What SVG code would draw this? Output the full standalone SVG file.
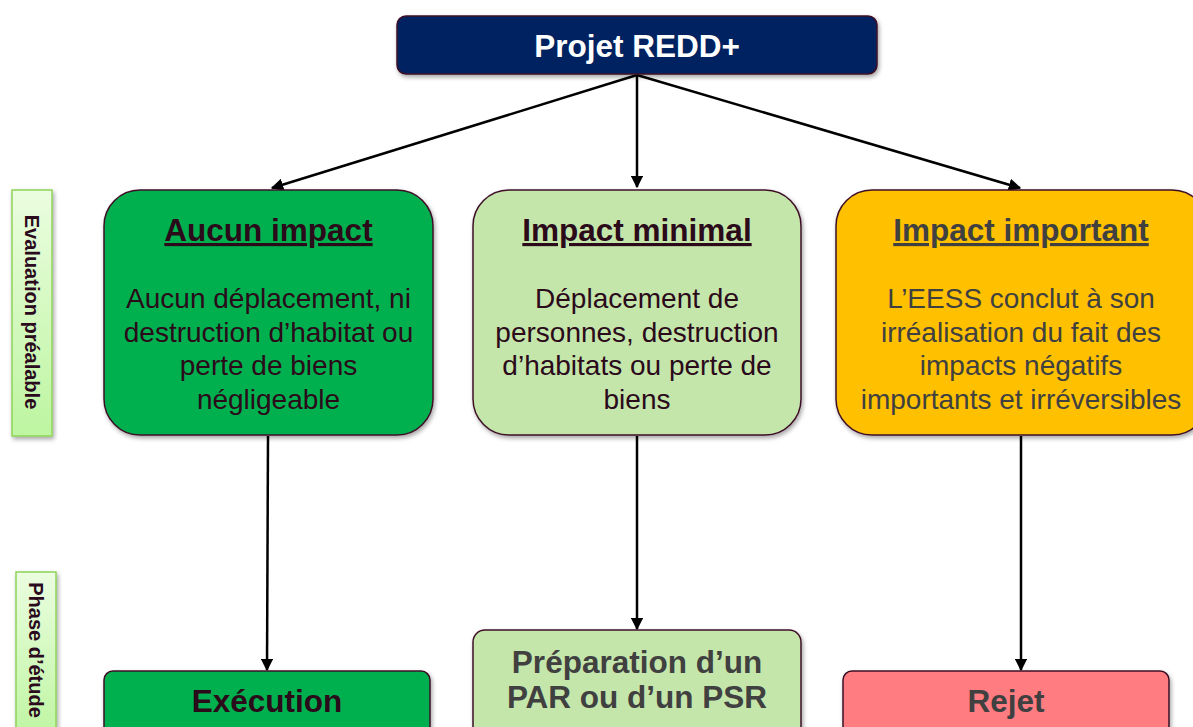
<svg xmlns="http://www.w3.org/2000/svg" width="1193" height="727" viewBox="0 0 1193 727">
  <defs>
    <style>
      .box { stroke: #3d0f26; stroke-width: 1.5; filter: url(#shadow); }
      .title { font-family: "Liberation Sans", Arial, sans-serif; font-weight: bold; font-size: 31.5px; text-anchor: middle; text-decoration: underline; }
      .body { font-family: "Liberation Sans", Arial, sans-serif; font-size: 28px; text-anchor: middle; }
      .big { font-family: "Liberation Sans", Arial, sans-serif; font-weight: bold; font-size: 31.5px; text-anchor: middle; }
      .side { font-family: "Liberation Sans", Arial, sans-serif; font-weight: bold; font-size: 20px; text-anchor: middle; fill: #2a0a1c; }
      .sidebox { fill: url(#sideGrad); stroke: #8fd45a; stroke-width: 1.5; filter: url(#shadow); }
      .maroon { fill: #2b0a1a; }
      .grey { fill: #404040; }
      .conn { stroke: #000; stroke-width: 2.5; fill: none; marker-end: url(#arrow); }
    </style>
    <linearGradient id="sideGrad" x1="0" y1="0" x2="0" y2="1">
      <stop offset="0" stop-color="#ebfde0"/>
      <stop offset="1" stop-color="#bdf5a0"/>
    </linearGradient>
    <filter id="shadow" x="-10%" y="-10%" width="125%" height="130%">
      <feDropShadow dx="1.5" dy="2.5" stdDeviation="2" flood-color="#000" flood-opacity="0.35"/>
    </filter>
    <marker id="arrow" viewBox="0 0 10 10" refX="9" refY="5" markerWidth="5" markerHeight="5" orient="auto" markerUnits="strokeWidth">
      <path d="M0,0 L10,5 L0,10 z" fill="#000"/>
    </marker>
  </defs>

  <!-- side phase labels -->
  <g id="label-evaluation">
    <rect class="sidebox" x="12" y="190" width="40" height="246"/>
    <text class="side" transform="translate(32,312) rotate(90)" dy="7">Evaluation préalable</text>
  </g>
  <g id="label-etude">
    <rect class="sidebox" x="16" y="572" width="40" height="170"/>
    <text class="side" transform="translate(36,650) rotate(90)" dy="7">Phase d’étude</text>
  </g>

  <!-- connectors -->
  <g id="connectors">
    <line class="conn" x1="637" y1="75" x2="272" y2="188"/>
    <line class="conn" x1="637" y1="75" x2="637" y2="187"/>
    <line class="conn" x1="637" y1="75" x2="1020" y2="188"/>
    <line class="conn" x1="268" y1="436" x2="267" y2="670"/>
    <line class="conn" x1="637" y1="436" x2="637" y2="629"/>
    <line class="conn" x1="1021" y1="436" x2="1021" y2="670"/>
  </g>

  <!-- root -->
  <g id="node-projet">
    <rect class="box" x="397" y="16" width="480" height="58" rx="9" fill="#002060" stroke="#5a0f20"/>
    <text class="big" x="637" y="57" fill="#ffffff">Projet REDD+</text>
  </g>

  <!-- evaluation outcomes -->
  <g id="node-aucun">
    <rect class="box" x="104" y="190" width="329" height="245" rx="36" fill="#00b050"/>
    <text class="title maroon" x="268.5" y="241">Aucun impact</text>
    <text class="body maroon" x="268.5" y="308">Aucun déplacement, ni</text>
    <text class="body maroon" x="268.5" y="341.5">destruction d’habitat ou</text>
    <text class="body maroon" x="268.5" y="375">perte de biens</text>
    <text class="body maroon" x="268.5" y="408.5">négligeable</text>
  </g>

  <g id="node-minimal">
    <rect class="box" x="473" y="190" width="328" height="245" rx="36" fill="#c4e6ab"/>
    <text class="title maroon" x="637" y="241">Impact minimal</text>
    <text class="body maroon" x="637" y="308">Déplacement de</text>
    <text class="body maroon" x="637" y="341.5">personnes, destruction</text>
    <text class="body maroon" x="637" y="375">d’habitats ou perte de</text>
    <text class="body maroon" x="637" y="408.5">biens</text>
  </g>

  <g id="node-important">
    <rect class="box" x="836" y="190" width="372" height="245" rx="36" fill="#ffc000"/>
    <text class="title grey" x="1021" y="241">Impact important</text>
    <text class="body grey" x="1021" y="308">L’EESS conclut à son</text>
    <text class="body grey" x="1021" y="341.5">irréalisation du fait des</text>
    <text class="body grey" x="1021" y="375">impacts négatifs</text>
    <text class="body grey" x="1021" y="408.5">importants et irréversibles</text>
  </g>

  <!-- study phase outcomes -->
  <g id="node-execution">
    <rect class="box" x="104" y="671" width="326" height="70" rx="9" fill="#00b050"/>
    <text class="big maroon" x="267" y="712">Exécution</text>
  </g>

  <g id="node-preparation">
    <rect class="box" x="473" y="630" width="328" height="110" rx="12" fill="#c4e6ab"/>
    <text class="big grey" x="637" y="673">Préparation d’un</text>
    <text class="big grey" x="637" y="708">PAR ou d’un PSR</text>
  </g>

  <g id="node-rejet">
    <rect class="box" x="843" y="671" width="326" height="70" rx="9" fill="#ff7c80"/>
    <text class="big grey" x="1006" y="712">Rejet</text>
  </g>
</svg>
